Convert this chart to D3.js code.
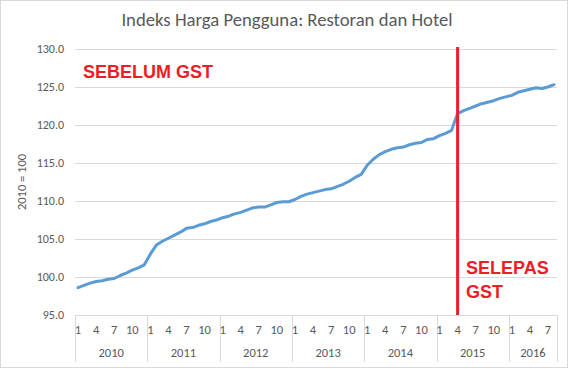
<!DOCTYPE html>
<html>
<head>
<meta charset="utf-8">
<script src="https://cdn.jsdelivr.net/npm/d3@7"></script>
<style>
    body { margin: 0; background: #fff; }
    svg { display: block; }
</style>
</head>
<body>
<svg></svg>
<script>
"use strict";

var years = ['2010', '2011', '2012', '2013', '2014', '2015', '2016'];
var monthTicks = [1, 4, 7, 10];
var yTicks = [95, 100, 105, 110, 115, 120, 125, 130];

// monthly index, Jan 2010 .. Aug 2016
var cpi2010 = [98.6, 98.9, 99.2, 99.4, 99.5, 99.7, 99.8, 100.2, 100.5, 100.9, 101.2, 101.6];
var cpi2011 = [103.0, 104.2, 104.7, 105.1, 105.5, 105.9, 106.4, 106.5, 106.8, 107.0, 107.3, 107.5];
var cpi2012 = [107.8, 108.0, 108.3, 108.5, 108.8, 109.1, 109.2, 109.2, 109.5, 109.8, 109.9, 109.9];
var cpi2013 = [110.2, 110.6, 110.9, 111.1, 111.3, 111.5, 111.6, 111.9, 112.2, 112.6, 113.1, 113.5];
var cpi2014 = [114.7, 115.5, 116.1, 116.5, 116.8, 117.0, 117.1, 117.4, 117.6, 117.7, 118.1, 118.2];
var cpi2015 = [118.6, 118.9, 119.3, 121.5, 121.9, 122.2, 122.5, 122.8, 123.0, 123.2, 123.5, 123.7];
var cpi2016 = [123.9, 124.3, 124.5, 124.7, 124.9, 124.8, 125.0, 125.3];

var gstMonth = { year: '2015', month: 4 };

var series = [cpi2010, cpi2011, cpi2012, cpi2013, cpi2014, cpi2015, cpi2016];

var data = [];
series.forEach((vals, yi) => {
    vals.forEach((v, mi) => {
        data.push({ key: years[yi] + '-' + (mi + 1), year: years[yi], month: mi + 1, value: v });
    });
});

var width = 572, height = 369;
var margin = { top: 49, right: 15, bottom: 54, left: 75 };

var svg = d3.select('svg').attr('width', width).attr('height', height);

svg.append('rect')
    .attr('x', 0.5).attr('y', 0.5)
    .attr('width', 567).attr('height', 367)
    .attr('fill', '#fff')
    .attr('stroke', '#d9d9d9');

var x = d3.scaleBand()
    .domain(data.map(d => d.key))
    .range([margin.left, width - margin.right])
    .padding(0);

var y = d3.scaleLinear()
    .domain([95, 130])
    .range([height - margin.bottom, margin.top]);

var textColor = '#595959';
var font = 'Calibri, Carlito, Lato, "Open Sans", sans-serif';

// title
svg.append('text')
    .attr('x', 287).attr('y', 26)
    .attr('text-anchor', 'middle')
    .attr('font-family', font)
    .attr('font-size', 18.7)
    .attr('fill', textColor)
    .text('Indeks Harga Pengguna: Restoran dan Hotel');

// gridlines + y labels
var gy = svg.append('g');
gy.selectAll('line')
    .data(yTicks.filter(t => t !== 95))
    .enter().append('line')
    .attr('x1', margin.left).attr('x2', width - margin.right)
    .attr('y1', d => Math.round(y(d)) + 0.5).attr('y2', d => Math.round(y(d)) + 0.5)
    .attr('stroke', '#d9d9d9');

gy.selectAll('text')
    .data(yTicks)
    .enter().append('text')
    .attr('x', 64)
    .attr('y', d => y(d) + 4)
    .attr('text-anchor', 'end')
    .attr('font-family', font)
    .attr('font-size', 12)
    .attr('fill', textColor)
    .text(d => d3.format('.1f')(d));

svg.append('text')
    .attr('transform', `translate(26,${(margin.top + height - margin.bottom) / 2}) rotate(-90)`)
    .attr('text-anchor', 'middle')
    .attr('font-family', font)
    .attr('font-size', 12.5)
    .attr('fill', textColor)
    .text('2010 = 100');

// category axis
var axisY = y(95);
var ga = svg.append('g');
ga.append('line')
    .attr('x1', margin.left).attr('x2', width - margin.right)
    .attr('y1', Math.round(axisY) + 0.5).attr('y2', Math.round(axisY) + 0.5)
    .attr('stroke', '#d9d9d9');

var yearStarts = years.map(yr => x(yr + '-1'));
var bounds = yearStarts.concat([width - margin.right]);

ga.selectAll('line.yr')
    .data(bounds)
    .enter().append('line')
    .attr('class', 'yr')
    .attr('x1', d => Math.round(d) + 0.5).attr('x2', d => Math.round(d) + 0.5)
    .attr('y1', axisY).attr('y2', axisY + 47)
    .attr('stroke', '#d9d9d9');

ga.selectAll('text.m')
    .data(data.filter(d => monthTicks.indexOf(d.month) >= 0))
    .enter().append('text')
    .attr('class', 'm')
    .attr('x', d => x(d.key) + x.bandwidth() / 2)
    .attr('y', axisY + 19)
    .attr('text-anchor', 'middle')
    .attr('font-family', font)
    .attr('font-size', 12.5)
    .attr('fill', textColor)
    .text(d => d.month);

ga.selectAll('text.y')
    .data(years)
    .enter().append('text')
    .attr('class', 'y')
    .attr('x', (d, i) => (bounds[i] + bounds[i + 1]) / 2)
    .attr('y', axisY + 42)
    .attr('text-anchor', 'middle')
    .attr('font-family', font)
    .attr('font-size', 12.5)
    .attr('fill', textColor)
    .text(d => d);

// series line
var line = d3.line()
    .x(d => x(d.key) + x.bandwidth() / 2)
    .y(d => y(d.value));

svg.append('path')
    .datum(data)
    .attr('d', line)
    .attr('fill', 'none')
    .attr('stroke', '#5b9bd5')
    .attr('stroke-width', 3)
    .attr('stroke-linejoin', 'round')
    .attr('stroke-linecap', 'round');

// GST marker
var gx = x(gstMonth.year + '-' + gstMonth.month) + x.bandwidth() / 2;
svg.append('line')
    .attr('x1', gx).attr('x2', gx)
    .attr('y1', margin.top - 2).attr('y2', axisY)
    .attr('stroke', '#e8202a')
    .attr('stroke-width', 3);

var labelFont = '"Liberation Sans", Arial, sans-serif';
svg.append('text')
    .attr('x', 83).attr('y', 78)
    .attr('font-family', labelFont)
    .attr('font-weight', 'bold')
    .attr('font-size', 18)
    .attr('fill', '#ee1c25')
    .text('SEBELUM GST');

var after = svg.append('text')
    .attr('font-family', labelFont)
    .attr('font-weight', 'bold')
    .attr('font-size', 18)
    .attr('fill', '#ee1c25');
after.append('tspan').attr('x', 466).attr('y', 274).text('SELEPAS');
after.append('tspan').attr('x', 466).attr('y', 298).text('GST');
</script>
</body>
</html>
